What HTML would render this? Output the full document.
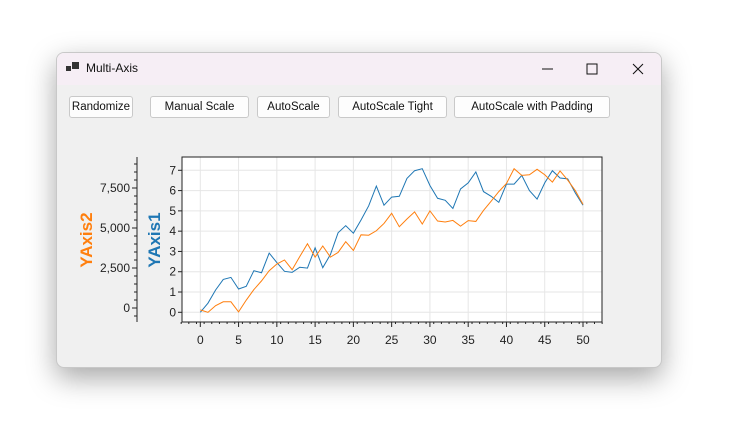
<!DOCTYPE html>
<html><head><meta charset="utf-8"><style>
body{margin:0;width:730px;height:444px;background:#fff;font-family:"Liberation Sans",sans-serif;position:relative;overflow:hidden}
#win{position:absolute;left:56px;top:52px;width:604px;height:314px;background:#f0f0f0;border:1px solid #c8c8c8;border-radius:8px;box-shadow:0 10px 28px rgba(0,0,0,.35);overflow:hidden}
#title{position:absolute;left:0;top:0;width:604px;height:32px;background:#f6eef5}
.btn{position:absolute;top:43px;height:20px;border:1px solid #c9c9c9;border-radius:3px;background:#fdfdfd;font-size:11.5px;line-height:20px;text-align:center;color:#111;white-space:nowrap}
</style></head><body>
<div id="win">
<div id="title">
<svg style="position:absolute;left:9px;top:9px" width="14" height="12"><rect x="0" y="4" width="5" height="5" fill="#333"/><rect x="6" y="0" width="7" height="7" fill="#333"/></svg>
<span style="position:absolute;left:29px;top:8px;font-size:12px;color:#111">Multi-Axis</span>
<svg style="position:absolute;left:480px;top:8px" width="120" height="16"><line x1="5" y1="8" x2="16" y2="8" stroke="#111"/><rect x="50" y="3" width="10" height="10" fill="none" stroke="#111"/><path d="M96 3 L106 13 M106 3 L96 13" stroke="#111"/></svg>
</div>
<div class="btn" style="left:12px;width:62px">Randomize</div>
<div class="btn" style="left:93px;width:97px">Manual Scale</div>
<div class="btn" style="left:200px;width:71px">AutoScale</div>
<div class="btn" style="left:281px;width:107px">AutoScale Tight</div>
<div class="btn" style="left:397px;width:154px">AutoScale with Padding</div>
</div>
<svg id="chart" width="730" height="444" style="position:absolute;left:0;top:0" font-family="Liberation Sans, sans-serif"></svg>
<script>
const xs=[...Array(51).keys()];
const blue=[0,0.45,1.1,1.62,1.72,1.15,1.28,2.05,1.95,2.92,2.45,2.02,1.97,2.22,2.18,3.18,2.2,2.85,3.92,4.27,3.9,4.55,5.25,6.22,5.28,5.68,5.72,6.6,6.98,7.08,6.25,5.62,5.52,5.12,6.08,6.38,6.92,5.95,5.72,5.42,6.32,6.32,6.75,6.0,5.58,6.38,6.98,6.62,6.58,5.88,5.28];
const orange=[-118,-270,148,389,389,-245,491,1150,1695,2329,2748,3001,2393,3217,4016,3179,3876,3179,3471,4143,3597,4574,4548,4827,5284,5918,5081,5563,6007,5246,6070,5436,5373,5474,5119,5461,5411,6095,6679,7275,7782,8707,8289,8327,8669,8327,7871,8568,7997,7338,6476];
const xTicks=[0,5,10,15,20,25,30,35,40,45,50];
const y1Ticks=[0,1,2,3,4,5,6,7];
const y2Ticks=[0,2500,5000,7500];
const y2Labels=["0","2,500","5,000","7,500"];
const L=182,R=602,T=157,B=322;
const sx=v=>200.3+v*(583-200.3)/50;
const sy1=v=>312.3-v*(312.3-170.3)/7;
const sy2=v=>308-v*(120/7500);
const svg=document.getElementById('chart');const NS='http://www.w3.org/2000/svg';
function mk(t,a,p){const e=document.createElementNS(NS,t);for(const k in a)e.setAttribute(k,a[k]);(p||svg).appendChild(e);return e;}
const bg=mk('rect',{x:L,y:T,width:R-L,height:B-T,fill:'#fff'});


xTicks.forEach(v=>{const g=mk('line',{x1:sx(v),x2:sx(v),y1:T,y2:B,stroke:'#e6e6e6'});


const t=mk('text',{x:sx(v),y:B+22,'font-size':12,'text-anchor':'middle',fill:'#222'});t.textContent=v;


mk('line',{x1:sx(v),x2:sx(v),y1:B,y2:B+5,stroke:'#222'});});
for(let v=-2.5;v<=53;v+=1)mk('line',{x1:sx(v),x2:sx(v),y1:B,y2:B+2,stroke:'#222'});
y1Ticks.forEach(v=>{const g=mk('line',{x1:L,x2:R,y1:sy1(v),y2:sy1(v),stroke:'#e6e6e6'});


mk('line',{x1:L-4,x2:L,y1:sy1(v),y2:sy1(v),stroke:'#222'});
const t=mk('text',{x:L-6,y:sy1(v)+4,'font-size':12,'text-anchor':'end',fill:'#222'});t.textContent=v;

});
const fr=mk('rect',{x:L,y:T,width:R-L,height:B-T,fill:'none',stroke:'#222'});


const ax2=mk('line',{x1:137,x2:137,y1:T,y2:B,stroke:'#222'});


for(let v=-500;v<=9000;v+=500)mk('line',{x1:134,x2:137,y1:sy2(v),y2:sy2(v),stroke:'#222'});
y2Ticks.forEach((v,i)=>{mk('line',{x1:132,x2:137,y1:sy2(v),y2:sy2(v),stroke:'#222'});
const t=mk('text',{x:130,y:sy2(v)+4,'font-size':12,'text-anchor':'end',fill:'#222'});t.textContent=y2Labels[i];

});
const t2=mk('text',{x:0,y:0,'font-size':17,'font-weight':'bold',fill:'#ff7f0e','text-anchor':'middle',transform:'translate(92,240) rotate(-90)'});t2.textContent='YAxis2';


const t1=mk('text',{x:0,y:0,'font-size':17,'font-weight':'bold',fill:'#1f77b4','text-anchor':'middle',transform:'translate(160,240) rotate(-90)'});t1.textContent='YAxis1';


const pb=mk('polyline',{points:xs.map((x,i)=>sx(x)+','+sy1(blue[i])).join(' '),fill:'none',stroke:'#1f77b4','stroke-width':1});


const po=mk('polyline',{points:xs.map((x,i)=>sx(x)+','+sy2(orange[i])).join(' '),fill:'none',stroke:'#ff7f0e','stroke-width':1});


</script>
</body></html>
